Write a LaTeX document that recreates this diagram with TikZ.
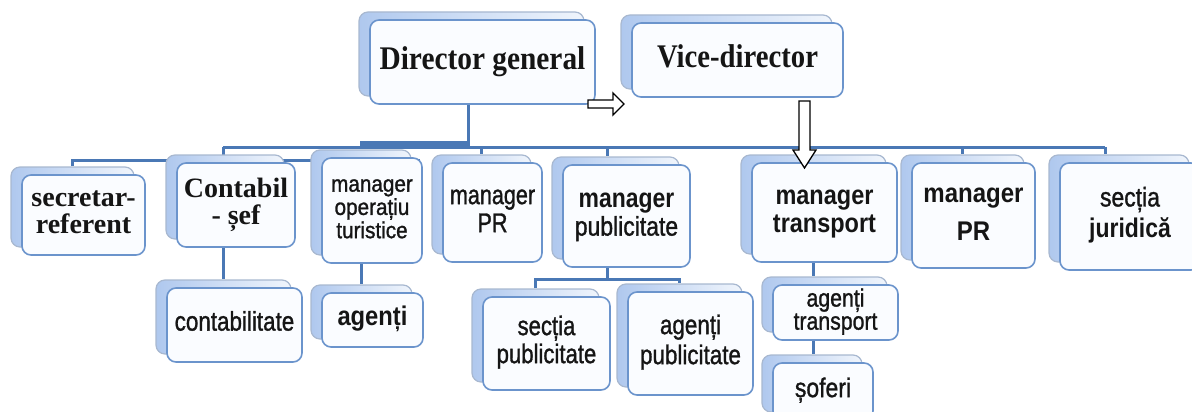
\documentclass[tikz,border=0pt]{standalone}
\usepackage{fontspec}
\setmainfont{Liberation Serif}
\setsansfont{Liberation Sans}
\newfontfamily\sfmed{Liberation Sans}[FakeBold=1.3]
\usepackage{graphicx}
\pgfdeclarelayer{bg}
\pgfsetlayers{bg,main}
\definecolor{conn}{HTML}{4A78B5}
\definecolor{fdraw}{HTML}{6B94CC}
\definecolor{ffill}{HTML}{FAFCFF}
\definecolor{bdraw}{HTML}{A8B8D0}
\definecolor{bfillL}{HTML}{AFC8EE}
\definecolor{bfillR}{HTML}{F0F5FC}
\definecolor{txt}{HTML}{151515}
\newcommand\tb[2]{\scalebox{#1}[1]{\begin{tabular}{@{}c@{}}#2\end{tabular}}}
\newcommand\obox[7]{%
  \node[backbox, minimum width=#4pt, minimum height=#5pt] (#1b) at ({#2-11},{#3-8}) {};
  \node[frontbox, #6, minimum width=#4pt, minimum height=#5pt] (#1) at (#2,#3) {#7};}
\tikzset{
  backbox/.style={draw=bdraw, line width=1.2pt, rounded corners=9pt, left color=bfillL, right color=bfillR, inner sep=0pt},
  frontbox/.style={draw=fdraw, fill=ffill, line width=1.6pt, rounded corners=9pt, inner sep=0pt, align=center, text=txt},
  serifL/.style={font=\rmfamily\bfseries\fontsize{33}{36}\selectfont},
  serifM/.style={font=\rmfamily\bfseries\fontsize{28}{24}\selectfont},
  sansM/.style={font=\sfmed\fontsize{27}{28}\selectfont},
  sansS/.style={font=\sfmed\fontsize{23}{22}\selectfont},
  sansT/.style={font=\sfmed\fontsize{25}{23}\selectfont},
  conn/.style={draw=conn, line width=3pt},
  harrow/.style={draw=black, fill=white, line width=1.3pt, line join=miter}
}
\begin{document}
\begin{tikzpicture}[x=1pt, y=-1pt]
\useasboundingbox (0,0) rectangle (1192,412);
\clip (0,0) rectangle (1192,412);
% top level
\obox{dg}{482.5}{62}{225}{84}{serifL}{\tb{0.89}{Director general}}
\obox{vd}{737.5}{60}{211}{74}{serifL}{\tb{0.87}{Vice-director}}
% second level
\obox{sr}{83.5}{215}{123}{80}{serifM}{\tb{1}{secretar-\\referent}}
\obox{cs}{236}{205}{118}{84}{serifM}{\tb{1}{Contabil\\- șef}}
\obox{mo}{372}{210.5}{100}{105}{sansS}{\tb{0.9}{manager\\operațiu\\turistice}}
\obox{mpr}{492.5}{212.5}{99}{99}{sansM}{\tb{0.8}{manager\\PR}}
\obox{mp}{626.5}{216}{127}{102}{sansM}{\tb{0.85}{{\sffamily\bfseries manager}\\publicitate}}
\obox{mt}{824.5}{212.5}{145}{99}{sansM}{\tb{0.87}{{\sffamily\bfseries manager}\\{\sffamily\bfseries transport}}}
\obox{mpr2}{973.5}{215.5}{123}{105}{sansM}{\tb{0.89}{{\sffamily\bfseries manager}\\[10pt]{\sffamily\bfseries PR}}}
\obox{sj}{1130}{216.5}{140}{107}{sansM}{\tb{0.85}{secția\\[3pt]{\sffamily\bfseries juridică}}}
% third level
\obox{ct}{234.5}{325}{135}{74}{sansM}{\tb{0.83}{contabilitate}}
\obox{ag}{372.5}{320}{101}{54}{sansM}{\tb{0.88}{{\sffamily\bfseries agenți}}}
\obox{sp}{546.5}{343.5}{127}{93}{sansM}{\tb{0.82}{secția\\publicitate}}
\obox{ap}{690.5}{343.5}{125}{103}{sansM}{\tb{0.83}{agenți\\[2pt]publicitate}}
\obox{at}{835.5}{312.5}{125}{55}{sansT}{\tb{0.85}{agenți\\transport}}
\obox{sf}{823}{391.5}{100}{57}{sansM}{\tb{0.85}{șoferi}}
% connectors
\coordinate (j0) at (468,147);
\coordinate (j1) at (223,147);
\coordinate (j2) at (1105,147);
\coordinate (k1) at (223,160);
\coordinate (k2) at (420,160);
\coordinate (t1) at (360,143);
\coordinate (t2) at (468,143);
\coordinate (d3) at (607,147);
\coordinate (m1) at (607,279);
\coordinate (m2) at (813,300);
\begin{pgfonlayer}{bg}
\draw[conn] (dg.south -| j0) -- (j0);
\draw[conn] (j1) -- (j2);
\draw[conn, line width=5pt] (t1) -- (t2);
\draw[conn] (j1) -- (k1);
\draw[conn] (srb.north) |- (k2);
\draw[conn] (mprb.north |- j0) -- (mprb.north);
\draw[conn] (d3) -- (d3 |- mpb.north);
\draw[conn] (mpr2b.north |- j0) -- (mpr2b.north);
\draw[conn] (j2) -- (j2 |- sjb.north);
\draw[conn] (cs.south -| ctb.north) -- (ctb.north);
\draw[conn] (mo.south -| agb.north) -- (agb.north);
\draw[conn] (mp.south -| m1) -- (m1);
\draw[conn] (spb.north) |- (m1) -| (apb.north);
\draw[conn] (mt.south -| m2) -- (atb.north -| m2);
\draw[conn] (at.south -| m2) -- (sfb.north -| m2);
\end{pgfonlayer}
% hollow arrows
\draw[harrow] (588,100) -- (613,100) -- (613,93) -- (624,104) -- (613,115) -- (613,108) -- (588,108) -- cycle;
\draw[harrow] (799,101) -- (810,101) -- (810,150) -- (816,150) -- (804.5,168) -- (793,150) -- (799,150) -- cycle;
\end{tikzpicture}
\end{document}
